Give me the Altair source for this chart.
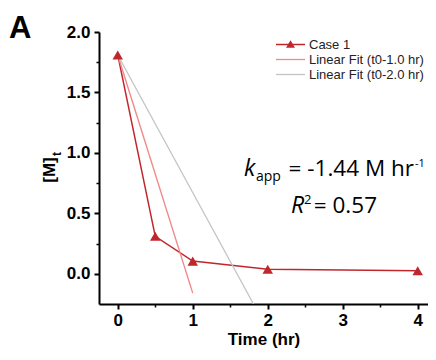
import altair as alt
import pandas as pd

# ---------------- data ----------------
case_t = [0, 0.5, 1, 2, 4]
case_m = [1.81, 0.31, 0.105, 0.037, 0.025]
fit1_t = [0, 1.0]
fit1_m = [1.81, -0.16]
fit2_t = [0, 1.81]
fit2_m = [1.81, -0.25]

series_names = ["Case 1", "Linear Fit (t0-1.0 hr)", "Linear Fit (t0-2.0 hr)"]
series_colors = ["#C0272D", "#F08A8A", "#C4C4C4"]
series_widths = [1.5, 1.3, 1.3]

x_major = [0, 1, 2, 3, 4]
x_minor = [0.5, 1.5, 2.5, 3.5]
y_major = [0.0, 0.5, 1.0, 1.5, 2.0]
y_minor = [0.25, 0.75, 1.25, 1.75]

k_text = ["k"]
k_sub = ["app"]
k_main = ["= -1.44 M hr"]
k_sup = ["-1"]
r_text = ["R"]
r_sup = ["2"]
r_main = ["= 0.57"]
panel_label = ["A"]
y_title = ["[M]"]
y_title_sub = ["t"]
x_title = "Time (hr)"

# ---------------- frames ----------------
rows = []
for name, ts, ms in zip(series_names, [case_t, fit1_t, fit2_t], [case_m, fit1_m, fit2_m]):
    for i, (t, m) in enumerate(zip(ts, ms)):
        rows.append({"series": name, "t": t, "m": m, "i": i})
lines_df = pd.DataFrame(rows)
case_df = pd.DataFrame({"t": case_t, "m": case_m})

xs = alt.Scale(domain=[-0.25, 4.137], nice=False, zero=False)
ys = alt.Scale(domain=[-0.25, 2.0], nice=False, zero=False)

AXF = "Liberation Sans"

major_x = alt.Axis(values=x_major, format="d", title=x_title, orient="bottom",
                   labelFont=AXF, labelFontWeight="bold", labelFontSize=17, labelColor="black",
                   titleFont=AXF, titleFontWeight="bold", titleFontSize=17, titleColor="black",
                   titlePadding=3, tickSize=5, tickWidth=2, tickColor="black",
                   domainColor="black", domainWidth=2, labelPadding=3, grid=False)
major_y = alt.Axis(values=y_major, format=".1f", title=None, orient="left",
                   labelFont=AXF, labelFontWeight="bold", labelFontSize=17, labelColor="black",
                   tickSize=5, tickWidth=2, tickColor="black",
                   domainColor="black", domainWidth=2, labelPadding=4, grid=False)
minor_x = alt.Axis(values=x_minor, labels=False, title=None, orient="bottom", domain=False,
                   tickSize=3, tickWidth=1.5, tickColor="black", grid=False)
minor_y = alt.Axis(values=y_minor, labels=False, title=None, orient="left", domain=False,
                   tickSize=3, tickWidth=1.5, tickColor="black", grid=False)

lines = alt.Chart(lines_df).mark_line(clip=True).encode(
    x=alt.X("t:Q", scale=xs, axis=major_x),
    y=alt.Y("m:Q", scale=ys, axis=major_y),
    color=alt.Color("series:N", scale=alt.Scale(domain=series_names, range=series_colors), legend=None),
    strokeWidth=alt.StrokeWidth("series:N", scale=alt.Scale(domain=series_names, range=series_widths), legend=None),
    detail="series:N",
    order="i:Q",
)

points = alt.Chart(case_df).mark_point(shape="triangle-up", filled=True, size=110,
                                       color=series_colors[0], opacity=1).encode(
    x=alt.X("t:Q", scale=xs, axis=minor_x),
    y=alt.Y("m:Q", scale=ys, axis=minor_y),
)

one = pd.DataFrame({"a": [0]})

# legend (manual)
leg_layers = []
LX0, LX1, LY0, LDY = 177, 206, 12.5, 15
for i, (name, col, w) in enumerate(zip(series_names, series_colors, series_widths)):
    yy = LY0 + LDY * i
    leg_layers.append(alt.Chart(one).mark_rule(color=col, strokeWidth=w).encode(
        x=alt.value(LX0), x2=alt.value(LX1), y=alt.value(yy)))
    leg_layers.append(alt.Chart(pd.DataFrame({"label": [name]})).mark_text(
        align="left", baseline="middle", font=AXF, fontSize=13, color="#222222").encode(
        text="label:N", x=alt.value(LX1 + 4), y=alt.value(yy + 0.5)))
leg_layers.append(alt.Chart(one).mark_point(shape="triangle-up", filled=True, size=80,
                                            color=series_colors[0], opacity=1).encode(
    x=alt.value((LX0 + LX1) / 2), y=alt.value(LY0 - 0.5)))

ANF = "Open Sans"
def txt(vals, x, y, size, align="left", style="normal", weight="normal", font=ANF, angle=0, baseline="alphabetic"):
    kw = dict(align=align, baseline=baseline, font=font, fontSize=size, fontStyle=style,
              fontWeight=weight, color="black")
    if angle:
        kw["angle"] = angle
    return alt.Chart(pd.DataFrame({"label": vals})).mark_text(**kw).encode(
        text="label:N", x=alt.value(x), y=alt.value(y))

ann = [
    txt(k_text, 145, 144, 23, style="italic"),
    txt(k_sub, 157, 149, 14),
    txt(k_main, 315, 144, 22.5, align="right"),
    txt(k_sup, 316, 135, 11),
    txt(r_text, 192, 181, 23, style="italic"),
    txt(r_sup, 205, 172, 13),
    txt(r_main, 278, 181, 22.5, align="right"),
    txt(panel_label, -90, 6, 31, weight="bold", font=AXF),
    txt(y_title, -49, 138, 17, align="center", weight="bold", font=AXF, angle=270, baseline="middle"),
    txt(y_title_sub, -42, 122, 12, align="center", weight="bold", font=AXF, angle=270, baseline="middle"),
]

chart = alt.layer(lines, points, *leg_layers, *ann).resolve_axis(
    x="independent", y="independent"
).properties(
    width=329, height=272,
    padding={"left": 91, "top": 24, "right": 0, "bottom": 48},
    autosize=alt.AutoSizeParams(type="none"),
).configure_view(stroke=None)

chart.save("out.html", embed_options={"renderer": "svg", "actions": False})
